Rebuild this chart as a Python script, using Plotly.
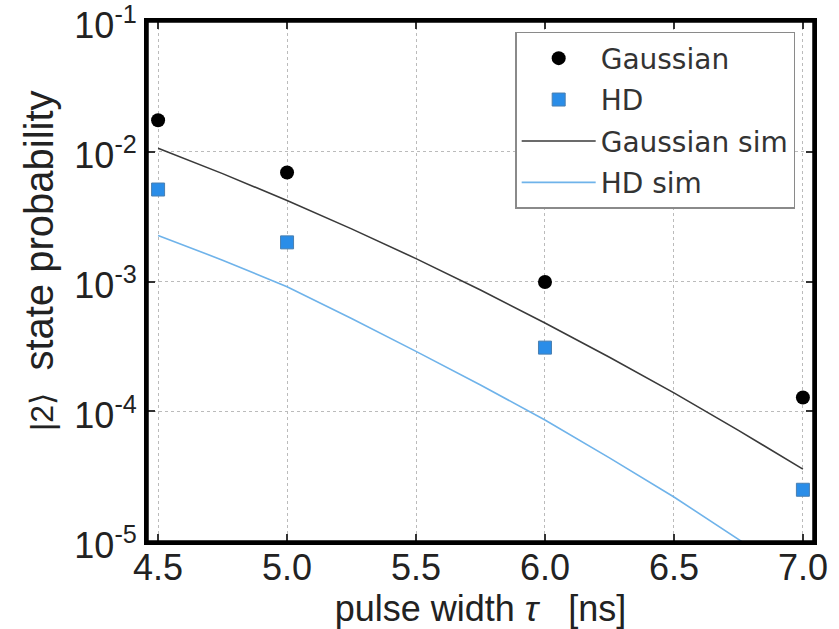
import plotly.graph_objects as go

# measured leakage to |2> for Gaussian and HD pulses
tau_meas = [4.5, 5.0, 6.0, 7.0]
p_gauss = [0.0174, 0.0069, 0.00099, 0.000128]
p_hd = [0.0051, 0.0020, 0.00031, 0.000025]

# simulated curves
tau_sim = [4.5, 4.75, 5.0, 5.25, 5.5, 5.75, 6.0, 6.25, 6.5, 6.75, 7.0]
p_gauss_sim = [0.0106, 0.00676, 0.00420, 0.00254, 0.00150, 0.00086,
               0.00048, 0.000261, 0.000139, 0.0000716, 0.0000360]
p_hd_sim = [0.00226, 0.00146, 0.00091, 0.00052, 0.00029, 0.000160,
            0.000086, 0.000044, 0.000022, 0.0000105, 0.0000049]

x_ticks = [4.5, 5.0, 5.5, 6.0, 6.5, 7.0]
x_ticktext = ["4.5", "5.0", "5.5", "6.0", "6.5", "7.0"]
y_ticks = [1e-5, 1e-4, 1e-3, 1e-2, 1e-1]
y_ticktext = ["10<sup>-5</sup>", "10<sup>-4</sup>", "10<sup>-3</sup>",
              "10<sup>-2</sup>", "10<sup>-1</sup>"]

BLUE = "#2a8de8"
SIM_BLUE = "#6fb3ea"
SANS = "Liberation Sans, Arial, sans-serif"

fig = go.Figure()
fig.add_trace(go.Scatter(
    x=tau_meas, y=p_gauss, mode="markers", name="Gaussian", legendgroup="a",
    marker=dict(symbol="circle", size=14, color="black"),
))
fig.add_trace(go.Scatter(
    x=tau_meas, y=p_hd, mode="markers", name="HD", legendgroup="b",
    marker=dict(symbol="square", size=13, color=BLUE,
                line=dict(color="#4a7fb0", width=1)),
))
fig.add_trace(go.Scatter(
    x=tau_sim, y=p_gauss_sim, mode="lines", name="Gaussian sim", legendgroup="c",
    line=dict(color="#3a3a3a", width=1.6),
))
fig.add_trace(go.Scatter(
    x=tau_sim, y=p_hd_sim, mode="lines", name="HD sim", legendgroup="d",
    line=dict(color=SIM_BLUE, width=1.6),
))

axis_common = dict(
    showline=True, linecolor="black", linewidth=3, mirror="ticks",
    ticks="inside", ticklen=8, tickwidth=2, tickcolor="#333",
    showgrid=True, gridcolor="#bbbbbb", gridwidth=1, griddash="dot",
    zeroline=False, ticklabeloverflow="allow", automargin=False,
    tickfont=dict(family=SANS, size=36, color="#222"),
)

fig.update_xaxes(
    range=[4.457, 7.043], tickvals=x_ticks, ticktext=x_ticktext,
    ticklabelstandoff=-8,
    title=dict(text="pulse width <i>τ</i>   [ns]", standoff=2,
               font=dict(family=SANS, size=36, color="#222")),
    **axis_common,
)
fig.update_yaxes(
    type="log", range=[-5.004, -0.996], tickvals=y_ticks, ticktext=y_ticktext,
    ticklabelshift=4,
    **axis_common,
)

# y-axis label placed as a rotated annotation
fig.add_annotation(
    xref="paper", yref="paper", x=-0.163, y=0.54,
    xanchor="center", yanchor="middle", textangle=-90, showarrow=False,
    text="<span style='font-size:32px'>|2⟩</span>  state probability",
    font=dict(family=SANS, size=40, color="#222"),
)

# heavy black frame around the plotting area
fig.add_shape(
    type="rect", xref="paper", yref="paper", x0=0, y0=0, x1=1, y1=1,
    line=dict(color="black", width=3.5), layer="above",
)

fig.update_layout(
    width=839, height=629,
    margin=dict(l=147, r=25, t=21, b=87, autoexpand=False),
    plot_bgcolor="white", paper_bgcolor="white",
    showlegend=True,
    legend=dict(
        x=0.552, y=0.979, xanchor="left", yanchor="top",
        bgcolor="white", bordercolor="#8a8a8a", borderwidth=1.5,
        font=dict(family="DejaVu Sans, sans-serif", size=28, color="#333"),
        itemwidth=74, tracegroupgap=2, traceorder="grouped",
    ),
)

fig.write_html("out.html")
